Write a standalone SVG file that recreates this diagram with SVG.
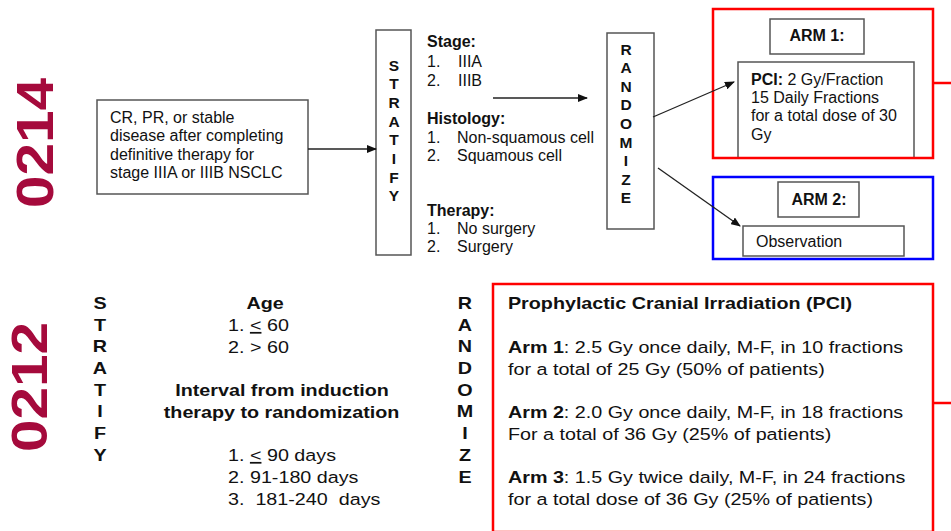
<svg xmlns="http://www.w3.org/2000/svg" width="951" height="531" viewBox="0 0 951 531">
<style>
text{font-family:"Liberation Sans",Arial,sans-serif;fill:#111}
.t{font-size:16px}
.b{font-weight:bold}
.box{fill:#fff;stroke:#555;stroke-width:1.5}
.lt{font-size:15.5px;font-weight:bold;text-anchor:middle}
.id{font-size:52px;font-weight:bold;fill:#a50a3c;text-anchor:middle}
.bt{font-size:17.3px}
.bl{font-size:17.3px;font-weight:bold;text-anchor:middle}
.conn{stroke:#222;stroke-width:1.3;fill:none;marker-end:url(#ah)}
</style>
<defs>
<marker id="ah" markerWidth="10" markerHeight="8" refX="9" refY="4" orient="auto" markerUnits="userSpaceOnUse">
<path d="M0,0 L10,4 L0,8 Z" fill="#111"/>
</marker>
</defs>
<rect width="951" height="531" fill="#fff"/>

<g id="label-0214"><text class="id" transform="translate(53,143) rotate(-90)" textLength="130" lengthAdjust="spacingAndGlyphs">0214</text></g>
<g id="label-0212"><text class="id" style="font-size:50px" transform="translate(47,387) rotate(-90)" textLength="130" lengthAdjust="spacingAndGlyphs">0212</text></g>

<g id="input">
<rect class="box" x="97" y="100" width="211" height="94"/>
<text class="t" x="110" y="122.5">CR, PR, or stable</text>
<text class="t" x="110" y="141">disease after completing</text>
<text class="t" x="110" y="159.5">definitive therapy for</text>
<text class="t" x="110" y="178">stage IIIA or IIIB NSCLC</text>
</g>

<g id="stratify-top">
<rect class="box" x="376" y="30" width="35" height="225"/>
<text class="lt" x="394" y="70.5">S</text>
<text class="lt" x="394" y="89.2">T</text>
<text class="lt" x="394" y="107.9">R</text>
<text class="lt" x="394" y="126.6">A</text>
<text class="lt" x="394" y="145.3">T</text>
<text class="lt" x="394" y="164">I</text>
<text class="lt" x="394" y="182.7">F</text>
<text class="lt" x="394" y="201.4">Y</text>
</g>

<g id="factors-top">
<text class="t b" x="427" y="47">Stage:</text>
<text class="t" x="427" y="66.5">1.</text><text class="t" x="458" y="66.5">IIIA</text>
<text class="t" x="427" y="86">2.</text><text class="t" x="458" y="86">IIIB</text>
<text class="t b" x="427" y="123.5">Histology:</text>
<text class="t" x="427" y="142.5">1.</text><text class="t" x="457" y="142.5">Non-squamous cell</text>
<text class="t" x="427" y="160.5">2.</text><text class="t" x="457" y="160.5">Squamous cell</text>
<text class="t b" x="427" y="215.5">Therapy:</text>
<text class="t" x="427" y="233.5">1.</text><text class="t" x="457" y="233.5">No surgery</text>
<text class="t" x="427" y="252">2.</text><text class="t" x="457" y="252">Surgery</text>
</g>

<g id="randomize-top">
<rect class="box" x="607" y="33" width="47" height="196"/>
<text class="lt" x="626" y="54.5">R</text>
<text class="lt" x="626" y="73.1">A</text>
<text class="lt" x="626" y="91.7">N</text>
<text class="lt" x="626" y="110.3">D</text>
<text class="lt" x="626" y="128.9">O</text>
<text class="lt" x="626" y="147.5">M</text>
<text class="lt" x="626" y="166.1">I</text>
<text class="lt" x="626" y="184.7">Z</text>
<text class="lt" x="626" y="203.3">E</text>
</g>

<g id="arm1">
<rect class="box" x="738" y="62" width="176" height="96"/>
<rect x="713" y="9" width="220" height="149" fill="none" stroke="#ff0000" stroke-width="2.5"/>
<line x1="933" y1="83" x2="951" y2="83" stroke="#ff0000" stroke-width="2.5"/>
<rect class="box" x="770" y="19" width="94" height="35"/>
<text class="t b" x="817" y="41" text-anchor="middle">ARM 1:</text>
<text class="t" x="751" y="84.5"><tspan font-weight="bold">PCI:</tspan> 2 Gy/Fraction</text>
<text class="t" x="751" y="102.5">15 Daily Fractions</text>
<text class="t" x="751" y="120.5">for a total dose of 30</text>
<text class="t" x="751" y="139.5">Gy</text>
</g>

<g id="arm2">
<rect x="713" y="177" width="220" height="82" fill="none" stroke="#0000ff" stroke-width="2.5"/>
<rect class="box" x="778" y="182" width="81" height="35"/>
<text class="t b" x="819" y="205" text-anchor="middle">ARM 2:</text>
<rect class="box" x="743" y="226" width="161" height="30"/>
<text class="t" x="756" y="247">Observation</text>
</g>

<g id="connectors">
<line class="conn" x1="308" y1="149" x2="376" y2="149"/>
<line class="conn" x1="493" y1="98" x2="587" y2="98"/>
<line class="conn" x1="653" y1="117" x2="734" y2="82"/>
<line class="conn" x1="658" y1="168" x2="740" y2="226"/>
</g>

<g id="bottom" transform="matrix(1.14 0 0 1 0 0)">
<g id="stratify-bottom">
<text class="bl" x="87.7" y="309">S</text>
<text class="bl" x="87.7" y="330.7">T</text>
<text class="bl" x="87.7" y="352.4">R</text>
<text class="bl" x="87.7" y="374.1">A</text>
<text class="bl" x="87.7" y="395.8">T</text>
<text class="bl" x="87.7" y="417.5">I</text>
<text class="bl" x="87.7" y="439.2">F</text>
<text class="bl" x="87.7" y="461">Y</text>
</g>
<g id="factors-bottom">
<text class="bl" x="232.5" y="309">Age</text>
<text class="bt" x="200" y="331">1. <tspan text-decoration="underline">&lt;</tspan> 60</text>
<text class="bt" x="200" y="353">2. &gt; 60</text>
<text class="bl" x="247.4" y="396">Interval from induction</text>
<text class="bl" x="247" y="418">therapy to randomization</text>
<text class="bt" x="200" y="461">1. <tspan text-decoration="underline">&lt;</tspan> 90 days</text>
<text class="bt" x="200" y="483">2. 91-180 days</text>
<text class="bt" x="200" y="505" xml:space="preserve">3.  181-240  days</text>
</g>
<g id="randomize-bottom">
<text class="bl" x="407.9" y="309">R</text>
<text class="bl" x="407.9" y="330.7">A</text>
<text class="bl" x="407.9" y="352.4">N</text>
<text class="bl" x="407.9" y="374.1">D</text>
<text class="bl" x="407.9" y="395.8">O</text>
<text class="bl" x="407.9" y="417.5">M</text>
<text class="bl" x="407.9" y="439.2">I</text>
<text class="bl" x="407.9" y="461">Z</text>
<text class="bl" x="407.9" y="483">E</text>
</g>
<g id="pci-text">
<text class="bt b" x="445.6" y="309">Prophylactic Cranial Irradiation (PCI)</text>
<text class="bt" x="445.6" y="353"><tspan font-weight="bold">Arm 1</tspan>: 2.5 Gy once daily, M-F, in 10 fractions</text>
<text class="bt" x="445.6" y="375">for a total of 25 Gy (50% of patients)</text>
<text class="bt" x="445.6" y="418"><tspan font-weight="bold">Arm 2</tspan>: 2.0 Gy once daily, M-F, in 18 fractions</text>
<text class="bt" x="445.6" y="440">For a total of 36 Gy (25% of patients)</text>
<text class="bt" x="445.6" y="483"><tspan font-weight="bold">Arm 3</tspan>: 1.5 Gy twice daily, M-F, in 24 fractions</text>
<text class="bt" x="445.6" y="505">for a total dose of 36 Gy (25% of patients)</text>
</g>
</g>
<g id="pci-box">
<rect x="493" y="284" width="440" height="248" fill="none" stroke="#ff0000" stroke-width="2.5"/>
<line x1="933" y1="403" x2="951" y2="403" stroke="#ff0000" stroke-width="2.5"/>
</g>
</svg>
